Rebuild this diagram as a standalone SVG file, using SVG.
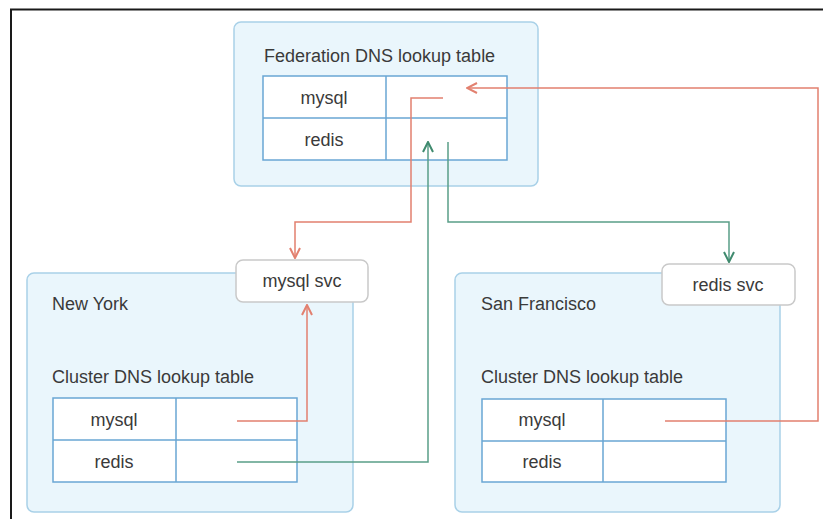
<svg xmlns="http://www.w3.org/2000/svg" width="823" height="519" viewBox="0 0 823 519">
<defs>
<style>
.frame{fill:none;stroke:#1a1a1a;stroke-width:2}
.cl{fill:#eaf6fc;stroke:#a9d1e8;stroke-width:1.5}
.tb{fill:#ffffff;stroke:#6aa6d4;stroke-width:1.5}
.ln{fill:none;stroke:#6aa6d4;stroke-width:1.5}
.svc{fill:#ffffff;stroke:#c9c9c9;stroke-width:1.5}
.t{font-family:"Liberation Sans",Arial,sans-serif;font-size:18px;fill:#3a3a3a}
.c{text-anchor:middle}
.red{fill:none;stroke:#e2806f;stroke-width:1.5}
.grn{fill:none;stroke:#5a9e88;stroke-width:1.5}
</style>
<marker id="ar" viewBox="0 0 12 12" refX="11" refY="6" markerWidth="12" markerHeight="12" markerUnits="userSpaceOnUse" orient="auto">
<path d="M1,1 L11,6 L1,11" fill="none" stroke="#e2806f" stroke-width="2"/>
</marker>
<marker id="ag" viewBox="0 0 12 12" refX="11" refY="6" markerWidth="12" markerHeight="12" markerUnits="userSpaceOnUse" orient="auto">
<path d="M1,1 L11,6 L1,11" fill="none" stroke="#3f8a6e" stroke-width="2"/>
</marker>
</defs>
<rect width="823" height="519" fill="#ffffff"/>
<path class="frame" d="M11,519 V9.5 H823"/>

<g id="federation">
<rect class="cl" x="234" y="22" width="304" height="164" rx="7"/>
<text class="t" x="264" y="62">Federation DNS lookup table</text>
<rect class="tb" x="263" y="76" width="244" height="84"/>
<path class="ln" d="M263,118 H507 M386,76 V160"/>
<text class="t c" x="324" y="104">mysql</text>
<text class="t c" x="324" y="146">redis</text>
</g>

<g id="new-york">
<rect class="cl" x="27" y="273" width="326" height="239" rx="7"/>
<text class="t" x="52" y="310">New York</text>
<text class="t" x="52" y="383">Cluster DNS lookup table</text>
<rect class="tb" x="53" y="398" width="244" height="84"/>
<path class="ln" d="M53,440 H297 M176,398 V482"/>
<text class="t c" x="114" y="426">mysql</text>
<text class="t c" x="114" y="468">redis</text>
</g>

<g id="san-francisco">
<rect class="cl" x="455" y="273" width="325" height="239" rx="7"/>
<text class="t" x="481" y="310">San Francisco</text>
<text class="t" x="481" y="383">Cluster DNS lookup table</text>
<rect class="tb" x="482" y="399" width="244" height="83"/>
<path class="ln" d="M482,441 H726 M603,399 V482"/>
<text class="t c" x="542" y="426">mysql</text>
<text class="t c" x="542" y="468">redis</text>
</g>

<g id="mysql-svc">
<rect class="svc" x="236" y="260" width="132" height="42" rx="7"/>
<text class="t c" x="302" y="287">mysql svc</text>
</g>

<g id="redis-svc">
<rect class="svc" x="662" y="264" width="133" height="41" rx="7"/>
<text class="t c" x="728" y="291">redis svc</text>
</g>

<g id="connectors">
<path class="red" d="M443,98 H411 V222 H295 V258" marker-end="url(#ar)"/>
<path class="red" d="M237,421 H307 V305" marker-end="url(#ar)"/>
<path class="red" d="M665,421 H818 V88 H467" marker-end="url(#ar)"/>
<path class="grn" d="M237,462 H428 V142" marker-end="url(#ag)"/>
<path class="grn" d="M448,142 V222 H729 V262" marker-end="url(#ag)"/>
</g>
</svg>
